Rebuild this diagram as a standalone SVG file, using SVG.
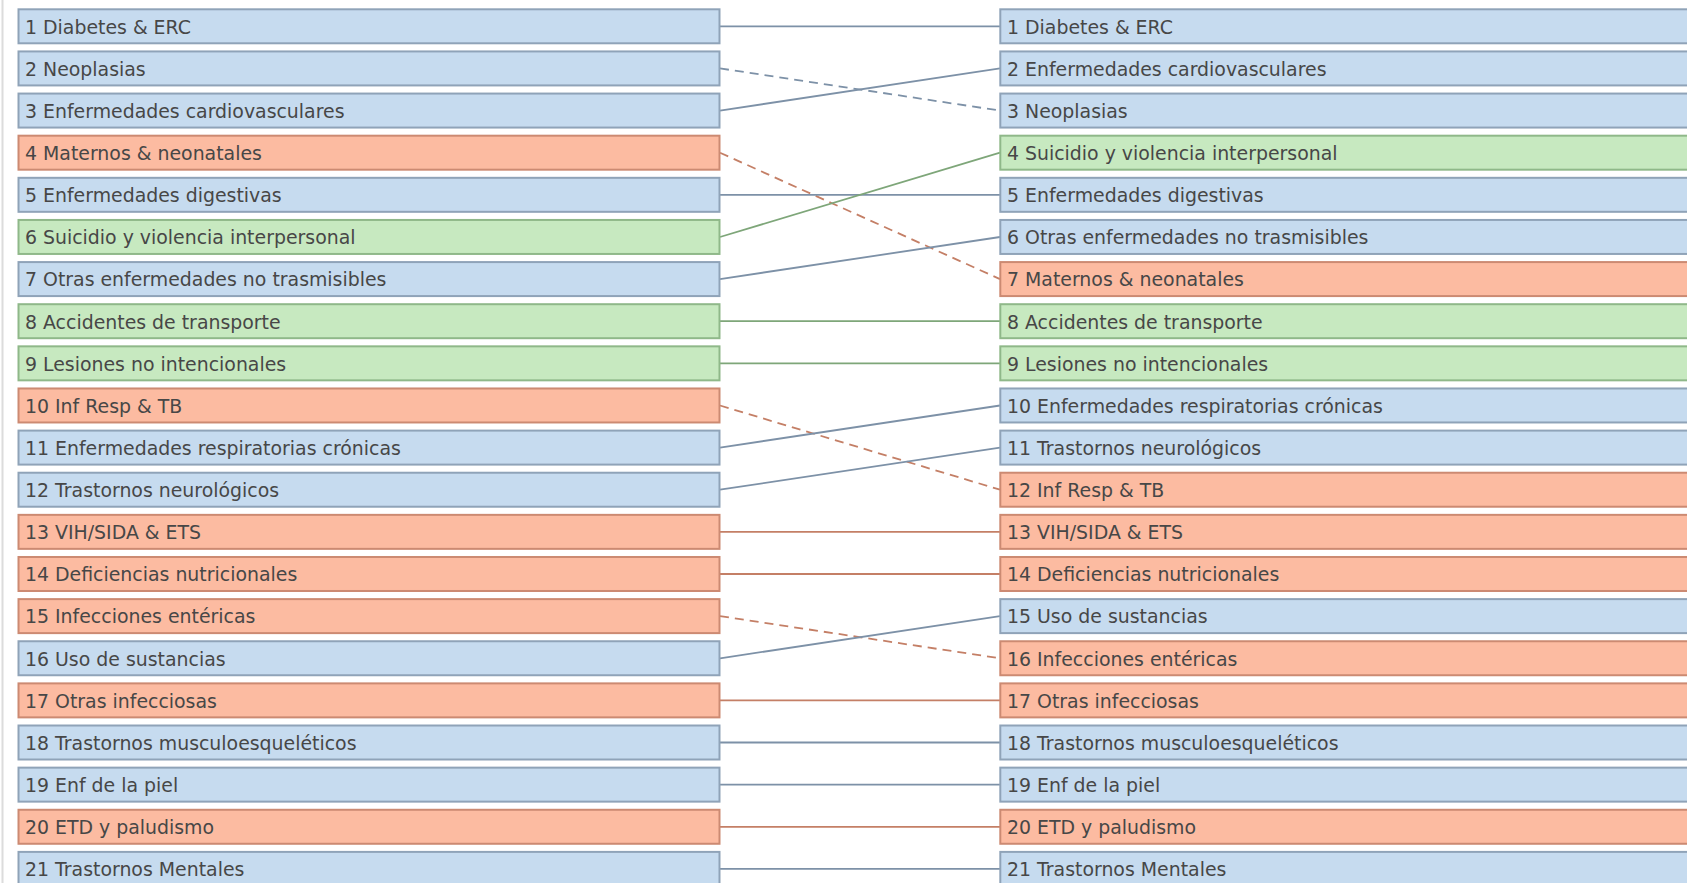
<svg xmlns="http://www.w3.org/2000/svg" width="1687" height="883" viewBox="0 0 1687 883">
<style>
text{font-family:"DejaVu Sans","Liberation Sans",sans-serif;font-size:18.9px;fill:#474747}
.b rect{fill:#c6dbef;stroke:#8fa3b8;stroke-width:2}
.o rect{fill:#fcbba1;stroke:#cc8a72;stroke-width:2}
.g rect{fill:#c7e9c0;stroke:#8fb889;stroke-width:2}
.c{fill:none;stroke-width:1.8}
.cb{stroke:#7d91a7}
.co{stroke:#c47f66}
.cg{stroke:#7ea679}
.d{stroke-dasharray:9 6}
</style>
<rect x="0" y="0" width="1687" height="883" fill="#ffffff"/>
<line x1="2.5" y1="0" x2="2.5" y2="883" stroke="#dcdcdc" stroke-width="2"/>
<g id="connectors">
<line class="c cb" x1="720" y1="26.3" x2="1000" y2="26.3"/>
<line class="c cb d" x1="720" y1="68.4" x2="1000" y2="110.6"/>
<line class="c cb" x1="720" y1="110.6" x2="1000" y2="68.4"/>
<line class="c co d" x1="720" y1="152.7" x2="1000" y2="279.1"/>
<line class="c cb" x1="720" y1="194.8" x2="1000" y2="194.8"/>
<line class="c cg" x1="720" y1="237" x2="1000" y2="152.7"/>
<line class="c cb" x1="720" y1="279.1" x2="1000" y2="237"/>
<line class="c cg" x1="720" y1="321.2" x2="1000" y2="321.2"/>
<line class="c cg" x1="720" y1="363.3" x2="1000" y2="363.3"/>
<line class="c co d" x1="720" y1="405.5" x2="1000" y2="489.7"/>
<line class="c cb" x1="720" y1="447.6" x2="1000" y2="405.5"/>
<line class="c cb" x1="720" y1="489.7" x2="1000" y2="447.6"/>
<line class="c co" x1="720" y1="531.9" x2="1000" y2="531.9"/>
<line class="c co" x1="720" y1="574" x2="1000" y2="574"/>
<line class="c co d" x1="720" y1="616.1" x2="1000" y2="658.3"/>
<line class="c cb" x1="720" y1="658.3" x2="1000" y2="616.1"/>
<line class="c co" x1="720" y1="700.4" x2="1000" y2="700.4"/>
<line class="c cb" x1="720" y1="742.5" x2="1000" y2="742.5"/>
<line class="c cb" x1="720" y1="784.6" x2="1000" y2="784.6"/>
<line class="c co" x1="720" y1="826.8" x2="1000" y2="826.8"/>
<line class="c cb" x1="720" y1="868.9" x2="1000" y2="868.9"/>
</g>
<g id="left-nodes">
<g id="L1" class="b" transform="translate(0,9.3)"><rect x="18.5" y="0" width="701" height="34"/><text x="25" y="24.3">1 Diabetes &amp; ERC</text></g>
<g id="L2" class="b" transform="translate(0,51.43)"><rect x="18.5" y="0" width="701" height="34"/><text x="25" y="24.3">2 Neoplasias</text></g>
<g id="L3" class="b" transform="translate(0,93.56)"><rect x="18.5" y="0" width="701" height="34"/><text x="25" y="24.3">3 Enfermedades cardiovasculares</text></g>
<g id="L4" class="o" transform="translate(0,135.69)"><rect x="18.5" y="0" width="701" height="34"/><text x="25" y="24.3">4 Maternos &amp; neonatales</text></g>
<g id="L5" class="b" transform="translate(0,177.82)"><rect x="18.5" y="0" width="701" height="34"/><text x="25" y="24.3">5 Enfermedades digestivas</text></g>
<g id="L6" class="g" transform="translate(0,219.95)"><rect x="18.5" y="0" width="701" height="34"/><text x="25" y="24.3">6 Suicidio y violencia interpersonal</text></g>
<g id="L7" class="b" transform="translate(0,262.08)"><rect x="18.5" y="0" width="701" height="34"/><text x="25" y="24.3">7 Otras enfermedades no trasmisibles</text></g>
<g id="L8" class="g" transform="translate(0,304.21)"><rect x="18.5" y="0" width="701" height="34"/><text x="25" y="24.3">8 Accidentes de transporte</text></g>
<g id="L9" class="g" transform="translate(0,346.34)"><rect x="18.5" y="0" width="701" height="34"/><text x="25" y="24.3">9 Lesiones no intencionales</text></g>
<g id="L10" class="o" transform="translate(0,388.47)"><rect x="18.5" y="0" width="701" height="34"/><text x="25" y="24.3">10 Inf Resp &amp; TB</text></g>
<g id="L11" class="b" transform="translate(0,430.6)"><rect x="18.5" y="0" width="701" height="34"/><text x="25" y="24.3">11 Enfermedades respiratorias crónicas</text></g>
<g id="L12" class="b" transform="translate(0,472.73)"><rect x="18.5" y="0" width="701" height="34"/><text x="25" y="24.3">12 Trastornos neurológicos</text></g>
<g id="L13" class="o" transform="translate(0,514.86)"><rect x="18.5" y="0" width="701" height="34"/><text x="25" y="24.3">13 VIH/SIDA &amp; ETS</text></g>
<g id="L14" class="o" transform="translate(0,556.99)"><rect x="18.5" y="0" width="701" height="34"/><text x="25" y="24.3">14 Deficiencias nutricionales</text></g>
<g id="L15" class="o" transform="translate(0,599.12)"><rect x="18.5" y="0" width="701" height="34"/><text x="25" y="24.3">15 Infecciones entéricas</text></g>
<g id="L16" class="b" transform="translate(0,641.25)"><rect x="18.5" y="0" width="701" height="34"/><text x="25" y="24.3">16 Uso de sustancias</text></g>
<g id="L17" class="o" transform="translate(0,683.38)"><rect x="18.5" y="0" width="701" height="34"/><text x="25" y="24.3">17 Otras infecciosas</text></g>
<g id="L18" class="b" transform="translate(0,725.51)"><rect x="18.5" y="0" width="701" height="34"/><text x="25" y="24.3">18 Trastornos musculoesqueléticos</text></g>
<g id="L19" class="b" transform="translate(0,767.64)"><rect x="18.5" y="0" width="701" height="34"/><text x="25" y="24.3">19 Enf de la piel</text></g>
<g id="L20" class="o" transform="translate(0,809.77)"><rect x="18.5" y="0" width="701" height="34"/><text x="25" y="24.3">20 ETD y paludismo</text></g>
<g id="L21" class="b" transform="translate(0,851.9)"><rect x="18.5" y="0" width="701" height="34"/><text x="25" y="24.3">21 Trastornos Mentales</text></g>
</g>
<g id="right-nodes">
<g id="R1" class="b" transform="translate(0,9.3)"><rect x="1000.3" y="0" width="720" height="34"/><text x="1007" y="24.3">1 Diabetes &amp; ERC</text></g>
<g id="R2" class="b" transform="translate(0,51.43)"><rect x="1000.3" y="0" width="720" height="34"/><text x="1007" y="24.3">2 Enfermedades cardiovasculares</text></g>
<g id="R3" class="b" transform="translate(0,93.56)"><rect x="1000.3" y="0" width="720" height="34"/><text x="1007" y="24.3">3 Neoplasias</text></g>
<g id="R4" class="g" transform="translate(0,135.69)"><rect x="1000.3" y="0" width="720" height="34"/><text x="1007" y="24.3">4 Suicidio y violencia interpersonal</text></g>
<g id="R5" class="b" transform="translate(0,177.82)"><rect x="1000.3" y="0" width="720" height="34"/><text x="1007" y="24.3">5 Enfermedades digestivas</text></g>
<g id="R6" class="b" transform="translate(0,219.95)"><rect x="1000.3" y="0" width="720" height="34"/><text x="1007" y="24.3">6 Otras enfermedades no trasmisibles</text></g>
<g id="R7" class="o" transform="translate(0,262.08)"><rect x="1000.3" y="0" width="720" height="34"/><text x="1007" y="24.3">7 Maternos &amp; neonatales</text></g>
<g id="R8" class="g" transform="translate(0,304.21)"><rect x="1000.3" y="0" width="720" height="34"/><text x="1007" y="24.3">8 Accidentes de transporte</text></g>
<g id="R9" class="g" transform="translate(0,346.34)"><rect x="1000.3" y="0" width="720" height="34"/><text x="1007" y="24.3">9 Lesiones no intencionales</text></g>
<g id="R10" class="b" transform="translate(0,388.47)"><rect x="1000.3" y="0" width="720" height="34"/><text x="1007" y="24.3">10 Enfermedades respiratorias crónicas</text></g>
<g id="R11" class="b" transform="translate(0,430.6)"><rect x="1000.3" y="0" width="720" height="34"/><text x="1007" y="24.3">11 Trastornos neurológicos</text></g>
<g id="R12" class="o" transform="translate(0,472.73)"><rect x="1000.3" y="0" width="720" height="34"/><text x="1007" y="24.3">12 Inf Resp &amp; TB</text></g>
<g id="R13" class="o" transform="translate(0,514.86)"><rect x="1000.3" y="0" width="720" height="34"/><text x="1007" y="24.3">13 VIH/SIDA &amp; ETS</text></g>
<g id="R14" class="o" transform="translate(0,556.99)"><rect x="1000.3" y="0" width="720" height="34"/><text x="1007" y="24.3">14 Deficiencias nutricionales</text></g>
<g id="R15" class="b" transform="translate(0,599.12)"><rect x="1000.3" y="0" width="720" height="34"/><text x="1007" y="24.3">15 Uso de sustancias</text></g>
<g id="R16" class="o" transform="translate(0,641.25)"><rect x="1000.3" y="0" width="720" height="34"/><text x="1007" y="24.3">16 Infecciones entéricas</text></g>
<g id="R17" class="o" transform="translate(0,683.38)"><rect x="1000.3" y="0" width="720" height="34"/><text x="1007" y="24.3">17 Otras infecciosas</text></g>
<g id="R18" class="b" transform="translate(0,725.51)"><rect x="1000.3" y="0" width="720" height="34"/><text x="1007" y="24.3">18 Trastornos musculoesqueléticos</text></g>
<g id="R19" class="b" transform="translate(0,767.64)"><rect x="1000.3" y="0" width="720" height="34"/><text x="1007" y="24.3">19 Enf de la piel</text></g>
<g id="R20" class="o" transform="translate(0,809.77)"><rect x="1000.3" y="0" width="720" height="34"/><text x="1007" y="24.3">20 ETD y paludismo</text></g>
<g id="R21" class="b" transform="translate(0,851.9)"><rect x="1000.3" y="0" width="720" height="34"/><text x="1007" y="24.3">21 Trastornos Mentales</text></g>
</g>
</svg>
